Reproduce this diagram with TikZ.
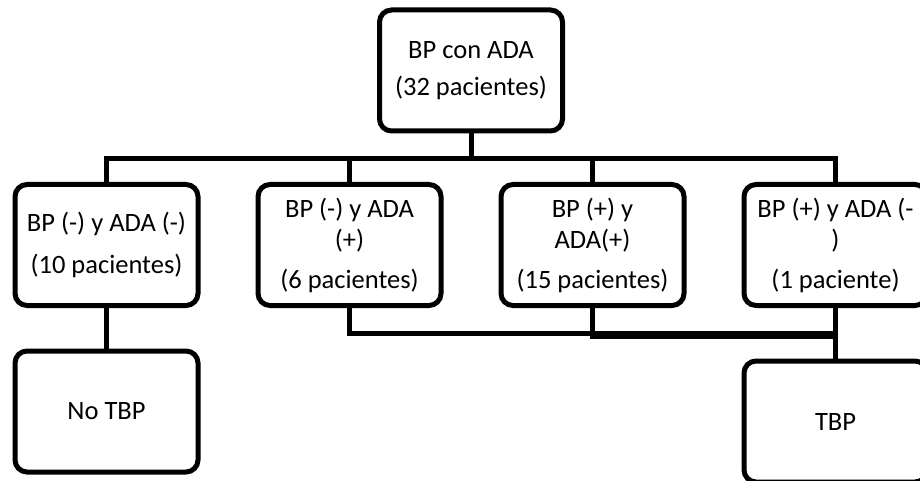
\documentclass[tikz,border=0pt]{standalone}
\usepackage{fontspec}
\setmainfont{Carlito}

\begin{document}
\begin{tikzpicture}[
    x=1pt, y=-1pt,
    line width=5pt,
    level 1/.style={level distance=174.5pt, sibling distance=243pt,
      edge from parent path={(\tikzparentnode.south) -- +(0,25) -| (\tikzchildnode.north)}},
    level 2/.style={level distance=166.5pt,
      edge from parent path={(\tikzparentnode.south) -- (\tikzchildnode.north)}},
    every node/.style={draw, rounded corners=12pt, minimum width=183pt, minimum height=121pt,
      align=center, font=\fontsize{26.5}{31}\selectfont},
  ]
    \clip (0,0) rectangle (920,481);
    \node (top) at (471,70.5) {BP con ADA\\[6pt](32 pacientes)}
      child {
        node (b1) {BP (-) y ADA (-)\\[11pt](10 pacientes)}
        child {
          node (notbp) {No TBP}
        }
      }
      child {
        node (b2) {BP (-) y ADA\\(+)\\[9pt](6 pacientes)}
      }
      child {
        node (b3) {BP (+) y\\ADA(+)\\[9pt](15 pacientes)}
      }
      child {
        node (b4) {BP (+) y ADA (-\\)\\[9pt](1 paciente)}
        child[level distance=176.5pt] {
          node (tbp) {TBP}
        }
      };
    % los otros dos caminos hacia TBP
    \draw (b2.south) -- +(0,25) -| (tbp.north);
    \draw (b3.south) -- +(0,28) -| (tbp.north);
\end{tikzpicture}
\end{document}
